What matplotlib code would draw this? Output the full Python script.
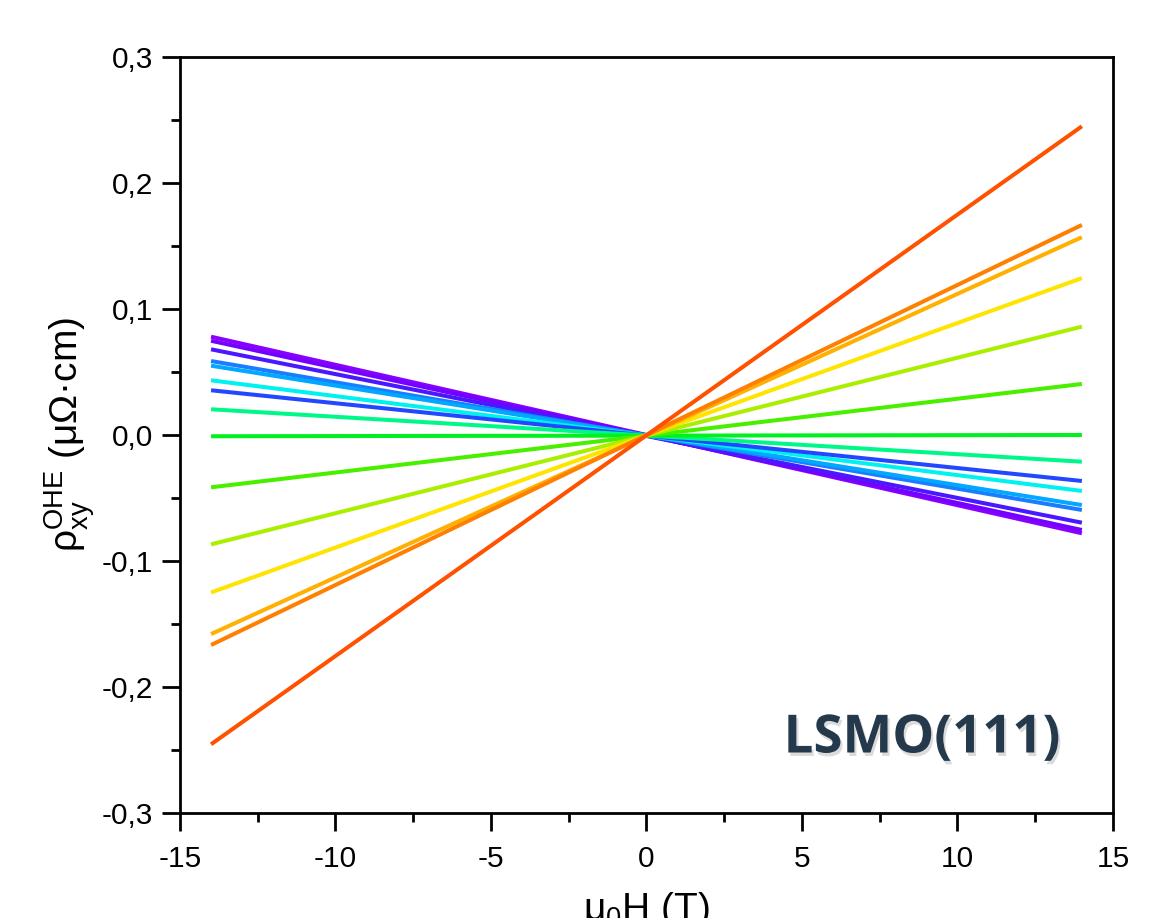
import matplotlib
matplotlib.use("Agg")
import matplotlib.pyplot as plt
import matplotlib.patheffects as pe
from matplotlib.ticker import MultipleLocator, FuncFormatter

plt.rcParams['font.family'] = ['Liberation Sans', 'DejaVu Sans']
plt.rcParams['mathtext.fontset'] = 'custom'
plt.rcParams['mathtext.rm'] = 'Liberation Sans'
plt.rcParams['mathtext.it'] = 'Liberation Sans:italic'

# Field range of each curve (T)
field = [-14, 14]
# rho_xy^OHE at -14 T and +14 T (µΩ·cm), one entry per curve
rho_left = [0.078, 0.0748, 0.068, 0.0587, 0.055, 0.0434, 0.0355, 0.0204,
            -0.001, -0.0415, -0.0868, -0.125, -0.158, -0.1667, -0.2455]
rho_right = [-0.078, -0.0754, -0.0696, -0.0595, -0.0556, -0.0444, -0.0365, -0.0212,
             0.0, 0.0405, 0.086, 0.1245, 0.157, 0.1667, 0.245]
colors = ['#8a00ff', '#7400ff', '#4a18ff', '#1a7cff', '#00a8ff', '#00f2f0',
          '#2248ff', '#00f888', '#00f020', '#48f000', '#aaee00', '#ffe400',
          '#ffb000', '#ff8000', '#ff5200']

xticks = [-15, -10, -5, 0, 5, 10, 15]
yticks = [-0.3, -0.2, -0.1, 0.0, 0.1, 0.2, 0.3]

fig = plt.figure(figsize=(11.67, 9.18), dpi=100)
ax = fig.add_axes([0.1542, 0.1144, 0.7995, 0.8235])

for yl, yr, c in zip(rho_left, rho_right, colors):
    ax.plot(field, [yl, yr], color=c, lw=2.9, solid_capstyle='butt')

ax.set_xlim(-15, 15)
ax.set_ylim(-0.3, 0.3)
ax.set_xticks(xticks)
ax.set_yticks(yticks)
ax.xaxis.set_minor_locator(MultipleLocator(2.5))
ax.yaxis.set_minor_locator(MultipleLocator(0.05))
ax.xaxis.set_major_formatter(FuncFormatter(lambda v, p: f"{v:.0f}"))
ax.yaxis.set_major_formatter(FuncFormatter(lambda v, p: f"{v:.1f}".replace('.', ',').replace('-0,0', '0,0')))

for s in ax.spines.values():
    s.set_linewidth(2.0)
ax.tick_params(which='major', direction='out', length=13, width=2.0, labelsize=21.5)
ax.tick_params(axis='x', which='major', pad=10)
ax.tick_params(axis='y', which='major', pad=6.5)
ax.tick_params(which='minor', direction='out', length=6.5, width=2.0)
ax.tick_params(top=False, right=False, which='both')

ax.set_xlabel(r'$\mathregular{\mu_0}$H (T)', fontsize=28, labelpad=12)
ax.set_ylabel(r'$\mathregular{\rho_{xy}^{OHE}}$ ($\mathregular{\mu\Omega}$·cm)', fontsize=28, labelpad=3)

ax.text(0.647, 0.080, 'LSMO(111)', transform=ax.transAxes, ha='left', va='baseline',
        fontsize=38, fontweight='bold', family='Open Sans', color='#243a4c',
        path_effects=[pe.SimplePatchShadow(offset=(1.5, -2.5), shadow_rgbFace='#999999', alpha=0.35),
                      pe.Normal()])

fig.savefig('out.png', dpi=100)
